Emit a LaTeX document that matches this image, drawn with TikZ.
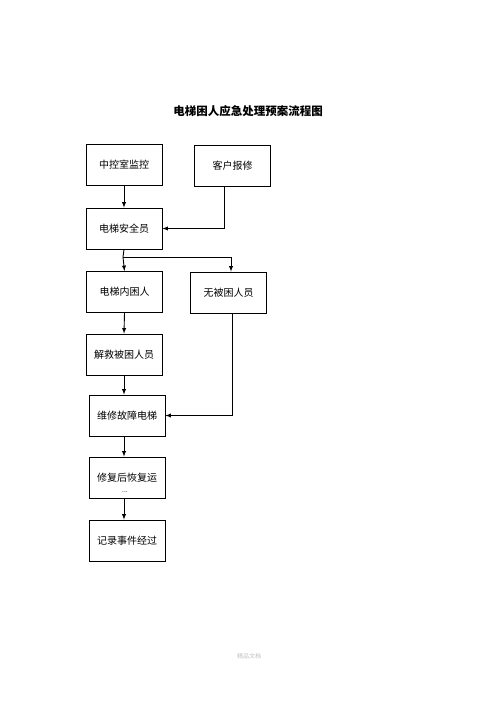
\documentclass[tikz,border=0pt]{standalone}
\usepackage{fontspec}
\setmainfont{Noto Sans CJK SC}
\usetikzlibrary{arrows,positioning,calc}

\tikzset{
  flowbox/.style={draw, line width=0.8pt, minimum width=76pt, minimum height=41pt,
    inner sep=0pt, font=\fontsize{10}{12}\selectfont},
  link/.style={line width=0.9pt},
}

\begin{document}
\begin{tikzpicture}[x=1pt,y=-1pt,>=latex]
  \useasboundingbox (0,0) rectangle (496,702);
% Title
  \node (title) at (248,111) {\fontsize{11.5}{14}\selectfont\bfseries 电梯困人应急处理预案流程图};
% Boxes
  \node[flowbox] (monitor) at (124,165) {中控室监控};
  \node[flowbox] (report) at (232.5,166) {客户报修};
  \node[flowbox] (guard) at (124,228.5) {电梯安全员};
  \node[flowbox] (trapped) at (124.5,292) {电梯内困人};
  \node[flowbox] (nobody) at (228.5,292.5) {无被困人员};
  \node[flowbox] (rescue) at (124,354.5) {解救被困人员};
  \node[flowbox] (repair) at (127,415.5) {维修故障电梯};
  \node[flowbox] (restore) at (127,477.5) {修复后恢复运};
  \node[font=\fontsize{7}{8}\selectfont, inner sep=0pt] (restoredots) at (125,492) {...};
  \node[flowbox] (record) at (127,540.5) {记录事件经过};
% Connectors
  \coordinate (split) at (123,257);
  \draw[link,->] (monitor.south) -- (guard.north);
  \draw[link,->] ([xshift=-8.5pt]report.south) |- (guard.east);
  \draw[link] (guard.south) -- (split);
  \draw[link,->] (split) -- (trapped.north);
  \draw[link,->] (split) -| ([xshift=2.5pt]nobody.north);
  \draw[link,->] (trapped.south) -- (rescue.north);
  \draw[link,->] (rescue.south) -- (rescue.south |- repair.north);
  \draw[link,->] ([xshift=3.5pt]nobody.south) |- (repair.east);
  \draw[link,->] ([xshift=-3pt]repair.south) -- ([xshift=-3pt]restore.north);
  \draw[link,->] ([xshift=-3pt]restore.south) -- ([xshift=-3pt]record.north);
% Footer
  \node[text=black!25, font=\fontsize{6}{7}\selectfont] (footer) at (249,656) {精品文档};
\end{tikzpicture}
\end{document}
